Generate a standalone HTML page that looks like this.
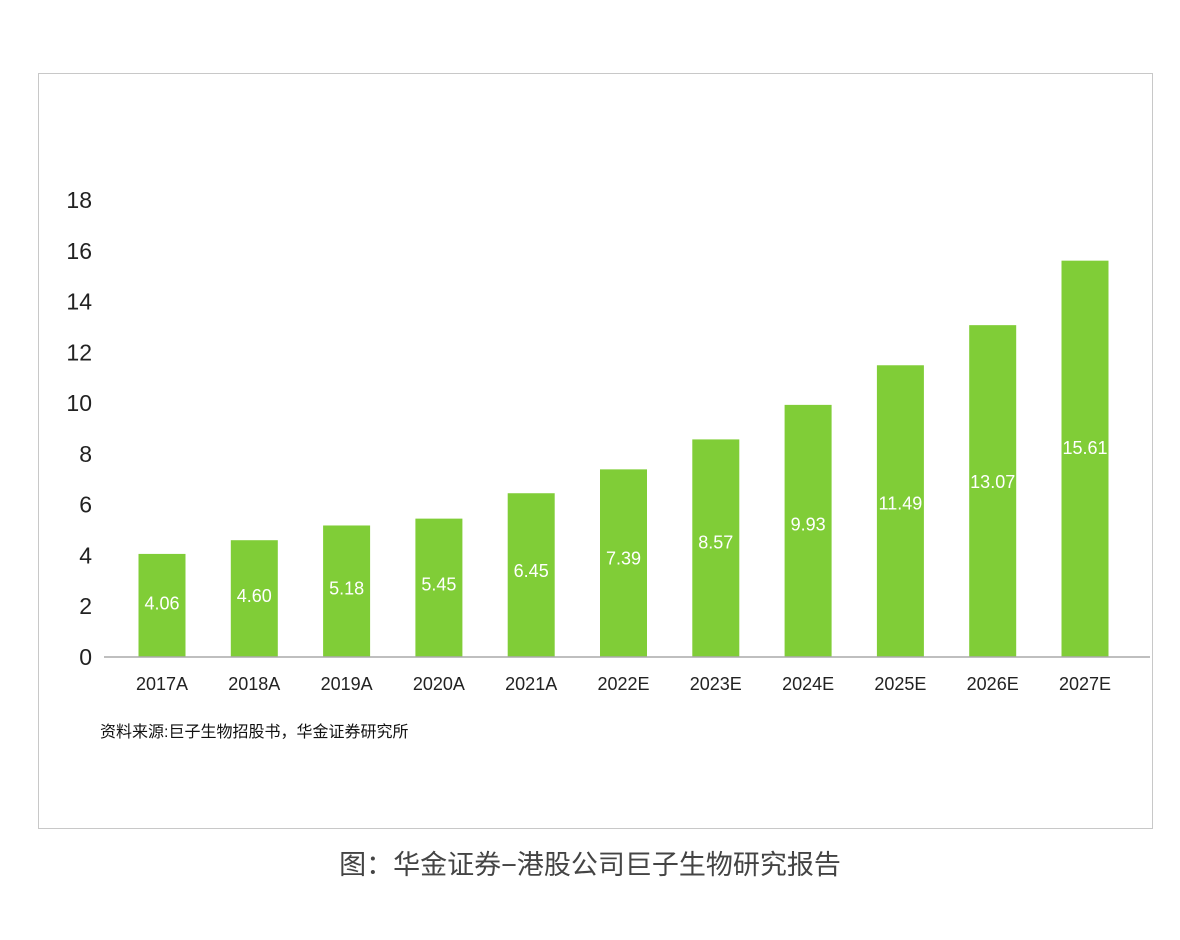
<!DOCTYPE html>
<html><head><meta charset="utf-8"><style>
body{margin:0;background:#fff;width:1180px;height:940px;overflow:hidden;font-family:"Liberation Sans","Noto Sans CJK SC",sans-serif;}
#frame{position:absolute;left:38px;top:73px;width:1113px;height:754px;border:1px solid #c8c8c8;}
#cap{position:absolute;left:0;width:1180px;top:843px;text-align:center;font-size:27px;color:#444;}
</style></head><body>
<div id="frame"></div>
<svg id="chart" width="1180" height="940" style="position:absolute;left:0;top:0"></svg>
<div id="cap">图：华金证券−港股公司巨子生物研究报告</div>
<script>
const categories=["2017A","2018A","2019A","2020A","2021A","2022E","2023E","2024E","2025E","2026E","2027E"];
const values=[4.06,4.60,5.18,5.45,6.45,7.39,8.57,9.93,11.49,13.07,15.61];
const yTicks=[0,2,4,6,8,10,12,14,16,18];
const NS="http://www.w3.org/2000/svg";
const svg=document.getElementById('chart');
const y0=657,yPer=25.39;
const yS=v=>y0-v*yPer;
const xS=i=>162+i*92.3;
function mk(t,a,txt){const e=document.createElementNS(NS,t);for(const k in a)e.setAttribute(k,a[k]);if(txt!==undefined)e.textContent=txt;svg.appendChild(e);return e;}
yTicks.forEach(t=>{
 const e=mk('text',{x:92,y:yS(t)+8,'text-anchor':'end','font-size':23,fill:'#222'},t);
 
 
});
values.forEach((v,i)=>{
 const b=mk('rect',{x:xS(i)-23.5,y:yS(v),width:47,height:v*yPer,fill:'#80cd37'});
 
 
 const l=mk('text',{x:xS(i),y:y0-v*yPer*0.53+7,'text-anchor':'middle','font-size':18,fill:'#fff'},v.toFixed(2));
 
 
 const c=mk('text',{x:xS(i),y:690,'text-anchor':'middle','font-size':18,fill:'#222'},categories[i]);
 
 
});
const ax=mk('line',{x1:104,x2:1150,y1:y0,y2:y0,stroke:'#aaa','stroke-width':1.5});


const s=mk('text',{x:100,y:737,'font-size':16,fill:'#111'},'资料来源:巨子生物招股书，华金证券研究所');


</script>
</body></html>
